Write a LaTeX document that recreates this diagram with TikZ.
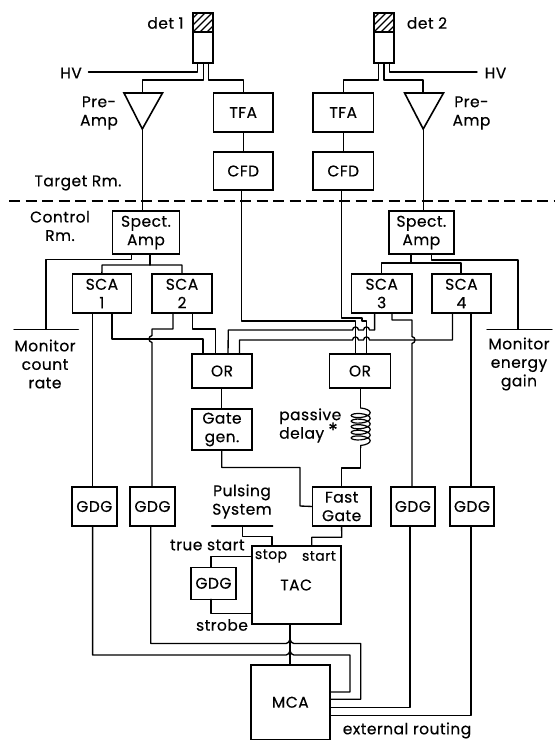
\documentclass[tikz,border=0pt]{standalone}
\usepackage{fontspec}
\setmainfont[FakeBold=0.4,LetterSpace=3]{Poppins}
\usetikzlibrary{decorations.pathmorphing}
\tikzset{
  wire/.style={line width=1.35pt,line join=round,line cap=round},
  box/.style={draw,line width=1.6pt,inner sep=0pt,outer sep=0pt,align=center,font=\fontsize{15.5}{18.5}\selectfont},
  lbl/.style={inner sep=0pt,align=center,font=\fontsize{15.5}{18.5}\selectfont},
  tri/.style={draw,line width=1.6pt,line join=miter,fill=white}
}
\newcommand\bx[6]{\node[box,minimum width={(#4-#2)*1pt},minimum height={(#5-#3)*1pt}] (#1) at ({(#2+#4)/2},{(#3+#5)/2}) {#6};}
\begin{document}
\begin{tikzpicture}[x=1pt,y=-1pt]
\useasboundingbox (0,0) rectangle (555,740);
% port columns
\foreach \n/\v in {a/92.6,b/112,c/152,d/173,e/192.6,f/203,g/215.5,h/228,i/239.5,j/241.3,k/341.3,l/355.5,m/366.5,n/374.6,o/392,p/412,q/452.5,r/471,s/131.4,t/150,u/411,v/431.8,w/221.7,y/360.7,z/290}
  {\coordinate (x\n) at (\v,0);}
% boxes
\bx{detAt}{193}{13}{213}{32}{}
\bx{detAb}{193}{32}{213}{63}{}
\bx{detBt}{374}{13}{394}{32}{}
\bx{detBb}{374}{32}{394}{63}{}
\foreach \b in {detAt,detBt}{
 \begin{scope}
 \clip (\b.south west) rectangle (\b.north east);
 \foreach \k in {-14,-7,...,28}
  \draw[line width=1.2pt] ([xshift=\k pt]\b.south west) -- ++(22,-22);
 \end{scope}}
\bx{tfaA}{213.5}{93}{273}{132}{TFA}
\bx{cfdA}{213.5}{152}{273}{190}{CFD}
\bx{tfaB}{313}{93}{373.5}{132}{TFA}
\bx{cfdB}{313}{152}{373.5}{190}{CFD}
\bx{spA}{112.4}{211}{179.5}{254}{Spect.\\Amp}
\bx{spB}{388.7}{211}{454}{254}{Spect.\\Amp}
\bx{scaA}{72.4}{274}{131.4}{313}{SCA\\1}
\bx{scaB}{152}{274}{212}{313}{SCA\\2}
\bx{scaC}{351.6}{274}{411.7}{313}{SCA\\3}
\bx{scaD}{431.8}{274}{491}{313}{SCA\\4}
\bx{orA}{192}{354}{252}{388}{OR}
\bx{orB}{329.5}{354}{390.5}{388}{OR}
\bx{gate}{192}{409}{252}{450}{Gate\\gen.}
\bx{fast}{312.3}{487}{371}{526}{Fast\\Gate}
\bx{gdgA}{72}{487}{116.7}{526}{GDG}
\bx{gdgB}{130}{487}{175}{526}{GDG}
\bx{gdgC}{390.7}{487}{435}{526}{GDG}
\bx{gdgD}{450}{487}{494}{526}{GDG}
\bx{gdgE}{191}{567.3}{236}{599.3}{GDG}
\bx{tac}{251.7}{546}{340.7}{624}{TAC}
\bx{mca}{250.7}{665}{330}{739.5}{MCA}
% triangles
\coordinate (triAtop) at (142.6,93);
\coordinate (triBtop) at (423,93);
\coordinate (triAap) at (142.3,129);
\coordinate (triBap) at (423.2,129);
\draw[tri] (124,93) -- (162.5,93) -- (triAap) -- cycle;
\draw[tri] (404.6,93) -- (443.5,93) -- (triBap) -- cycle;
% labels
\node[lbl] (l1) at (165.5,23) {det 1};
\node[lbl] (l2) at (427,23) {det 2};
\node[lbl] (hvA) at (71,73) {HV};
\node[lbl] (hvB) at (495.5,73) {HV};
\coordinate (hvAe) at (88.5,72); \coordinate (hvBe) at (477,72);
\node[lbl] (preA) at (99,113) {Pre-\\Amp};
\node[lbl] (preB) at (471.5,113) {Pre-\\Amp};
\node[lbl] (tr) at (78,183) {Target Rm.};
\node[lbl] (cr) at (60,226) {Control\\Rm.};
\node[lbl] (monA) at (45,364) {Monitor\\count\\rate};
\node[lbl] (monB) at (519,364) {Monitor\\energy\\gain};
\node[lbl,align=left,anchor=west] (pas) at (279,425.5) {passive\\delay};
\node[lbl,font=\fontsize{20}{20}\selectfont] (ast) at (333,430) {*};
\node[lbl] (pul) at (242,501.5) {Pulsing\\System};
\node[lbl] (ts) at (207.3,545) {true start};
\node[lbl] (st) at (222,625) {strobe};
\node[lbl,font=\fontsize{14}{16}\selectfont] (stop) at (271,556) {stop};
\node[lbl,font=\fontsize{14}{16}\selectfont] (start) at (319,556) {start};
\node[lbl] (ext) at (407,730.5) {external routing};
% dashed
\coordinate (dL) at (9,201); \coordinate (dR) at (555,201);
\draw[line width=1.5pt,dash pattern=on 11pt off 5.5pt] (dL) -- (dR);
% bars
\coordinate (barAl) at (14,329.3); \coordinate (barAr) at (78.4,329.3);
\coordinate (barBl) at (487,329.3); \coordinate (barBr) at (552,329.3);
\coordinate (barCl) at (211.7,526); \coordinate (barCr) at (272.7,526);
\draw[wire] (barAl) -- (barAr) (barBl) -- (barBr) (barCl) -- (barCr);
% detector wiring
\draw[wire] (197.5,63) -- (197.5,72) -- (hvAe);
\draw[wire] (203.5,63) |- (triAtop |- 0,80) -- (triAtop);
\draw[wire] (208.5,63) |- (tfaA.north |- 0,80) -- (tfaA.north);
\draw[wire] (378.5,63) |- (tfaB.north |- 0,80) -- (tfaB.north);
\draw[wire] (384,63) |- (triBtop |- 0,80) -- (triBtop);
\draw[wire] (389.5,63) -- (389.5,72) -- (hvBe);
\draw[wire] (tfaA) -- (cfdA);
\draw[wire] (tfaB) -- (cfdB);
\draw[wire] (triAap) -- (triAap |- spA.north);
\draw[wire] (triBap) -- (triBap |- spB.north);
% spect amp outputs
\draw[wire] (xs |- spA.south) -- (131.4,259.3) -- (46,259.3) -- (46,329.3);
\draw[wire] (xt |- spA.south) -- (150,265);
\draw[wire] (scaA.north) -- (102,265) -- (182,265) -- (scaB.north);
\draw[wire] (xu |- spB.south) -- (411,263);
\draw[wire] (scaC.north -| 381.6,0) -- (381.6,263) -- (461,263) -- (scaD.north -| 461,0);
\draw[wire] (xv |- spB.south) -- (431.8,260) -- (518,260) -- (518,329.3);
% SCA to GDG and OR
\draw[wire] (xa |- scaA.south) -- (xa |- gdgA.north);
\draw[wire] (xb |- scaA.south) -- (112,339) -- (203,339) -- (xf |- orA.north);
\draw[wire] (xd |- scaB.south) -- (173,329) -- (152,329) -- (152,335.5) .. controls (148,336.5) and (148,341.5) .. (152,342.5) -- (xc |- gdgB.north);
\draw[wire] (xe |- scaB.south) -- (192.6,329) -- (215.5,329) -- (xg |- orA.north);
\draw[wire] (xn |- scaC.south) -- (374.6,330) -- (369.5,330) .. controls (369.5,326) and (363.5,326) .. (363.5,330) -- (358.5,330) .. controls (358.5,326) and (352.5,326) .. (352.5,330) -- (228.3,330) -- (xh |- orA.north);
\draw[wire] (xq |- scaD.south) -- (452.5,340) -- (369.5,340) .. controls (369.5,336) and (363.5,336) .. (363.5,340) -- (358.5,340) .. controls (358.5,336) and (352.5,336) .. (352.5,340) -- (239.5,340) -- (xi |- orA.north);
\draw[wire] (xo |- scaC.south) -- (392,320) -- (412,320) -- (412,336.5) .. controls (416,337.5) and (416,342.5) .. (412,343.5) -- (xp |- gdgC.north);
\draw[wire] (xr |- scaD.south) -- (xr |- gdgD.north);
% CFD to OR
\draw[wire] (xj |- cfdA.south) -- (241.3,321) -- (355.5,321) -- (xl |- orB.north);
\draw[wire] (xk |- cfdB.south) -- (341.3,318) -- (362,318) -- (362,321) -- (366.5,321) -- (xm |- orB.north);
% OR to gate, delay, fast gate
\draw[wire] (orA.south -| xw) -- (gate.north -| xw);
\draw[wire] (gate.south -| xw) -- (221.7,467.5) -- (300,467.5) -- (300,506) -- (fast.west);
\coordinate (coilT) at (360.7,408); \coordinate (coilB) at (360.7,448);
\draw[wire] (orB.south -| xy) -- (coilT);
\draw[line width=1.2pt,decorate,decoration={coil,amplitude=9.5pt,segment length=5.6pt,aspect=0.35}] (coilT) -- (coilB);
\draw[wire] (coilB) -- (360.7,468) -- (fast.north |- 0,468) -- (fast.north);
% pulsing system
\draw[wire] (242.7,526) -- (242.7,536.7) -- (272,536.7) -- (272,546);
\draw[wire] (fast.south) -- (341.7,537.3) -- (311.7,537.3) -- (311.7,546);
\draw[wire] (gdgE.north -| 211,0) -- (211,556.3) -- (251.7,556.3);
\draw[wire] (gdgE.south -| 211,0) -- (211,613.7) -- (251.7,613.7);
% to MCA
\draw[line width=1.7pt] (xz |- tac.south) -- (xz |- mca.north);
\draw[wire] (gdgB.south -| 150.7,0) -- (150.7,643.5) -- (286,643.5) .. controls (288,643.5) and (289,642) .. (290,639.5) .. controls (291,642) and (292,643.5) .. (294,643.5) -- (360.7,643.5) -- (360.7,699.3) -- (mca.east |- 0,699.3);
\draw[wire] (gdgA.south -| xa) -- (92.6,655) -- (286,655) .. controls (288,655) and (289,653.5) .. (290,651) .. controls (291,653.5) and (292,655) .. (294,655) -- (350,655) -- (350,692) -- (mca.east |- 0,692);
\draw[wire] (gdgC.south -| 410,0) -- (410,707.7) -- (mca.east |- 0,707.7);
\draw[wire] (gdgD.south -| xr) -- (471,715.7) -- (mca.east |- 0,715.7);
\end{tikzpicture}
\end{document}
